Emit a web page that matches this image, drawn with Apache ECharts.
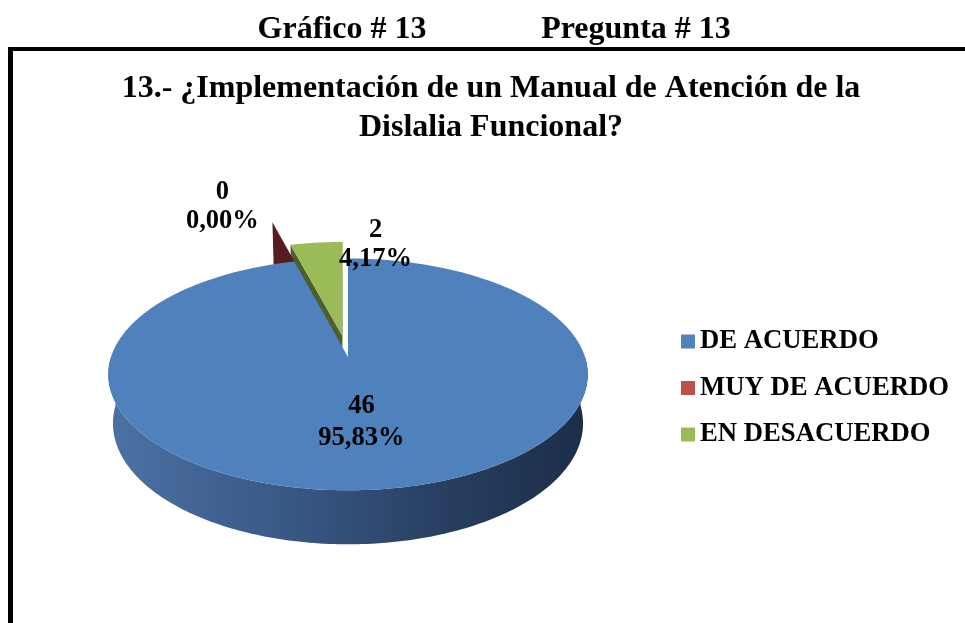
<!DOCTYPE html>
<html>
<head>
<meta charset="utf-8">
<script src="https://cdn.jsdelivr.net/npm/echarts@6/dist/echarts.min.js"></script>
<style>
html,body{margin:0;padding:0;background:#fff}
#main{width:965px;height:623px}
</style>
</head>
<body>
<div id="main"></div>
<script>
// data
var categories = ["DE ACUERDO", "MUY DE ACUERDO", "EN DESACUERDO"];
var values = [46, 0, 2];

// look
var colors = ["#4f81bd", "#c0504d", "#9bbb59"];
var wallColors = ["#2f4b72", "#561d1c", "#4f5f2b"];
var explode = [0, 0.5, 0.2];
var labelOffset = [[-4, 2], [-50, -16], [59, 2]];
var labelLine = [32, 29, 29];
var FONT = '"Liberation Serif", "Times New Roman", serif';

var total = values.reduce(function(a, b){ return a + b; }, 0);

// fake 3D projection of a tilted disc
var CX = 348, CY = 357, K = 237, DIST = 5.85, THICK = 0.238;
var SP = 0.478, CP = Math.sqrt(1 - SP * SP);
function proj(X, Y, Z){
  var yv = Y * CP + Z * SP, d = Z * CP - Y * SP, s = DIST / (DIST + d);
  return [CX + K * X * s, CY - K * yv * s];
}
function rad(a){ return a * Math.PI / 180; }
function sliceAngles(i){
  var a0 = 0;
  for (var j = 0; j < i; j++) a0 += values[j] / total * 360;
  return [a0, a0 + values[i] / total * 360];
}
function pct(v){ return (v / total * 100).toFixed(2).replace(".", ",") + "%"; }
function area(pts){
  var s = 0;
  for (var i = 0; i < pts.length; i++){
    var p = pts[i], q = pts[(i + 1) % pts.length];
    s += p[0] * q[1] - q[0] * p[1];
  }
  return s;
}

function makeRender(i){
  return function(params, api){
    var ang = sliceAngles(i), a0 = ang[0], a1 = ang[1], am = (a0 + a1) / 2;
    var ox = explode[i] * Math.sin(rad(am)), oz = explode[i] * Math.cos(rad(am));
    function P(r, a, y){ return proj(ox + r * Math.sin(rad(a)), y, oz + r * Math.cos(rad(a))); }
    var kids = [];
    var wz = i === 1 ? 2 : (i === 2 ? 1 : 3);

    // radial walls
    [[a0, true], [a1, false]].forEach(function(e){
      var q = [P(0, e[0], 0), P(1, e[0], 0), P(1, e[0], -THICK), P(0, e[0], -THICK)];
      var ar = area(q);
      if ((e[1] && ar < 0) || (!e[1] && ar > 0)){
        kids.push({type: "polygon", shape: {points: q}, style: {fill: wallColors[i]}, z2: wz});
      }
    });

    // outer wall, front half only
    var lo = Math.max(a0, 90), hi = Math.min(a1, 270);
    if (hi > lo){
      var w = [], n = Math.ceil(hi - lo), t;
      for (t = 0; t <= n; t++) w.push(P(1, lo + (hi - lo) * t / n, 0));
      for (t = n; t >= 0; t--) w.push(P(1, lo + (hi - lo) * t / n, -THICK));
      kids.push({type: "polygon", shape: {points: w}, z2: 3,
        style: {fill: {type: "linear", x: CX - K, y: 0, x2: CX + K, y2: 0, global: true,
          colorStops: [{offset: 0, color: "#4b71a4"}, {offset: 0.35, color: "#3a5a87"},
                       {offset: 0.7, color: "#283f62"}, {offset: 1, color: "#1c2e48"}]}}});
    }

    // top face
    if (a1 > a0){
      var top = [P(0, a0, 0)], m = Math.max(2, Math.ceil(a1 - a0));
      for (var k = 0; k <= m; k++) top.push(P(1, a0 + (a1 - a0) * k / m, 0));
      kids.push({type: "polygon", shape: {points: top}, style: {fill: colors[i]}, z2: 5 + i});
    }

    // label
    var big = values[i] / total > 0.5;
    var lp = big ? P(0.52, am, 0) : P(1, am, 0);
    kids.push({type: "text", x: lp[0] + labelOffset[i][0], y: lp[1] + labelOffset[i][1], z2: 20,
      style: {text: values[i] + "\n" + pct(values[i]), fill: "#000",
        fontFamily: FONT, fontWeight: "bold", fontSize: 26.5, lineHeight: labelLine[i],
        align: "center", verticalAlign: "middle"}});

    return {type: "group", children: kids};
  };
}

var series = categories.map(function(name, i){
  return {
    type: "custom", name: name, coordinateSystem: "none",
    itemStyle: {color: colors[i]},
    data: [[values[i]]],
    renderItem: makeRender(i),
    silent: true, animation: false
  };
});

var chart = echarts.init(document.getElementById("main"), null, {renderer: "canvas"});
chart.setOption({
  backgroundColor: "#fff",
  animation: false,
  title: [
    {text: "Gráfico # 13", left: 342, top: 14, textAlign: "center", padding: 0,
     textStyle: {fontFamily: FONT, fontWeight: "bold", fontSize: 32, color: "#000", lineHeight: 32}},
    {text: "Pregunta # 13", left: 636, top: 14, textAlign: "center", padding: 0,
     textStyle: {fontFamily: FONT, fontWeight: "bold", fontSize: 32, color: "#000", lineHeight: 32}},
    {text: "13.- ¿Implementación de un Manual de Atención de la\nDislalia Funcional?",
     left: 491, top: 69, textAlign: "center", padding: 0,
     textStyle: {fontFamily: FONT, fontWeight: "bold", fontSize: 32, color: "#000", lineHeight: 39}}
  ],
  legend: {
    orient: "vertical", left: 681, top: 328, padding: 0,
    itemWidth: 14, itemHeight: 14, itemGap: 19.5, icon: "rect", selectedMode: false,
    data: categories,
    textStyle: {fontFamily: FONT, fontWeight: "bold", fontSize: 26.7, color: "#000", lineHeight: 26}
  },
  graphic: [
    {type: "rect", shape: {x: 8, y: 47, width: 957, height: 4}, style: {fill: "#000"}},
    {type: "rect", shape: {x: 8, y: 47, width: 5, height: 576}, style: {fill: "#000"}}
  ],
  series: series
});
</script>
</body>
</html>
